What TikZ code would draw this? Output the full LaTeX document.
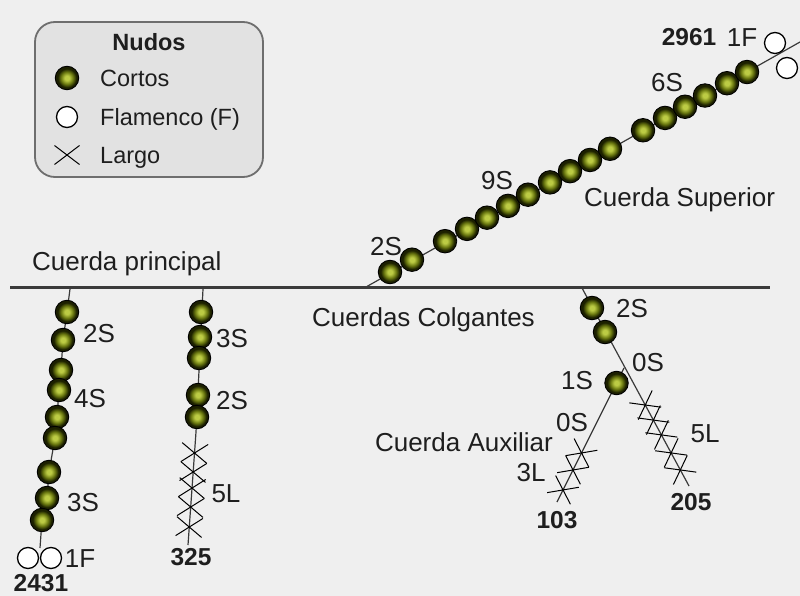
\documentclass[tikz,border=0pt]{standalone}
\usepackage{fontspec}
\setmainfont{Liberation Sans}
\usetikzlibrary{shapes.misc}
\definecolor{bg}{HTML}{EFEFEF}
\definecolor{legfill}{HTML}{E2E2E2}
\definecolor{legdraw}{HTML}{6E6E6E}
\definecolor{beadin}{HTML}{BCCB44}
\definecolor{beadmid}{HTML}{6A7810}
\definecolor{beadout}{HTML}{1C2000}
\definecolor{ropec}{HTML}{3A3A3A}
\definecolor{txt}{HTML}{1E1E1E}
\pgfdeclareradialshading{beadshade}{\pgfpoint{0bp}{0bp}}{color(0bp)=(beadin); color(5bp)=(beadin); color(13bp)=(beadmid); color(20bp)=(beadout); color(50bp)=(beadout)}
\begin{document}
\begin{tikzpicture}[x=1pt,y=-1pt,
  bead/.style={circle, draw=black, line width=0.9pt, shade, shading=beadshade, minimum size=23.5pt, inner sep=0pt},
  flam/.style={circle, draw=black, fill=white, line width=1.3pt, minimum size=21pt, inner sep=0pt},
  knot/.style={cross out, draw=black, line width=1pt, minimum width=18pt, minimum height=25pt, inner sep=0pt, sloped},
  rope/.style={draw=ropec, line width=1.2pt},
  lbl/.style={font=\fontsize{26}{30}\selectfont, text=txt, inner sep=0pt, text height=18.6pt, text depth=0pt},
  num/.style={lbl, font=\fontsize{24.5}{30}\selectfont\bfseries, text height=17.5pt},
  leg/.style={font=\fontsize{23.5}{28}\selectfont, text=txt, inner sep=0pt, text height=16.8pt, text depth=0pt}]
\fill[bg] (0,0) rectangle (800,596);
\useasboundingbox (0,0) rectangle (800,596);

% legend
\draw[fill=legfill, draw=legdraw, line width=1.8pt, rounded corners=20pt] (35,22) rectangle (263,177);
\node[leg, font=\fontsize{23.5}{28}\selectfont\bfseries] (legt) at (149,42) {Nudos};
\node[bead] (legb) at (67,78) {};
\node[leg, anchor=west] (legbt) at (100,78) {Cortos};
\node[flam] (legf) at (67,117) {};
\node[leg, anchor=west] (legft) at (100,117) {Flamenco (F)};
\node[cross out, draw=black, line width=1pt, minimum width=24pt, minimum height=18pt, inner sep=0pt] (legx) at (67,155) {};
\node[leg, anchor=west] (legxt) at (100,155) {Largo};

% main cord
\coordinate (mL) at (10,287);
\coordinate (mR) at (770,287);
\draw[draw=ropec, line width=3pt] (mL) -- (mR);
\node[lbl, anchor=west] (tprin) at (32,261) {Cuerda principal};
\node[lbl, anchor=west] (tcolg) at (312,317) {Cuerdas Colgantes};

% upper cord
\coordinate (sA) at (366,287);
\coordinate (sB) at (800,42);
\draw[rope] (sA) -- (sB);
\foreach \x [count=\i] in {390,412,445,467,487,508,528,550,570,590,610,643,665,685,705,727,747}{
  \node[bead] (s\i) at (\x,{272-0.5602*(\x-390)}) {};
}
\node[flam] (sf1) at (775,43) {};
\node[flam] (sf2) at (787,68) {};
\node[lbl] (s2s) at (386,246) {2S};
\node[lbl] (s9s) at (497,180) {9S};
\node[lbl] (s6s) at (667,82) {6S};
\node[num] (s2961) at (689,37) {2961};
\node[lbl] (s1f) at (742,37) {1F};
\node[lbl, anchor=west] (tsup) at (584,197) {Cuerda Superior};

% pendant 1
\coordinate (aT) at (70,289);
\coordinate (aE) at (40,548);
\draw[rope] (aT) -- (67,312) -- (63,340) -- (61,370) -- (59,390) -- (57,417) -- (55,438) -- (49,472) -- (47,498) -- (42,520) -- (aE);
\node[bead] (a1) at (67,312) {};
\node[bead] (a2) at (63,340) {};
\node[bead] (a3) at (61,370) {};
\node[bead] (a4) at (59,390) {};
\node[bead] (a5) at (57,417) {};
\node[bead] (a6) at (55,438) {};
\node[bead] (a7) at (49,472) {};
\node[bead] (a8) at (47,498) {};
\node[bead] (a9) at (42,520) {};
\node[flam] (af1) at (28,558) {};
\node[flam] (af2) at (51,558) {};
\node[lbl] (a2s) at (99,333) {2S};
\node[lbl] (a4s) at (90,398) {4S};
\node[lbl] (a3s) at (83,502) {3S};
\node[lbl] (a1f) at (80,558) {1F};
\node[num] (a2431) at (41,583) {2431};

% pendant 2
\coordinate (bT) at (203,289);
\coordinate (bK) at (196,432);
\coordinate (bE) at (188,545);
\draw[rope] (bT) -- (bK) -- (bE);
\node[bead] (b1) at (201,312) {};
\node[bead] (b2) at (200,337) {};
\node[bead] (b3) at (199,358) {};
\node[bead] (b4) at (198,395) {};
\node[bead] (b5) at (197,417) {};
\path (bK) -- (bE)
  foreach \q in {0.186,0.354,0.496,0.664,0.841}{ node[knot, pos=\q] {} };
\node[lbl] (b3s) at (232,338) {3S};
\node[lbl] (b2s) at (232,400) {2S};
\node[lbl] (b5l) at (226,493) {5L};
\node[num] (b325) at (191,557) {325};

% pendant 3 with auxiliary
\coordinate (cT) at (582,288);
\coordinate (cE) at (689,486);
\coordinate (dT) at (624,368);
\coordinate (dE) at (557,502);
\draw[rope] (cT) -- (cE);
\draw[rope] (dT) -- (dE);
\node[bead] (c1) at (592,308) {};
\node[bead] (c2) at (605,332) {};
\path (cT) -- (cE)
  foreach \q in {0.591,0.667,0.742,0.833,0.919}{ node[knot, pos=\q] {} };
\node[bead] (d1) at (616.5,383) {};
\path (dT) -- (dE)
  foreach \q in {0.634,0.761,0.910}{ node[knot, pos=\q] {} };
\node[lbl] (c2s) at (632,308) {2S};
\node[lbl] (c0s) at (648,362) {0S};
\node[lbl] (c5l) at (705,433) {5L};
\node[num] (c205) at (691,502) {205};
\node[lbl] (d1s) at (577,380) {1S};
\node[lbl] (d0s) at (572,422) {0S};
\node[lbl] (d3l) at (531,472) {3L};
\node[num] (d103) at (557,520) {103};
\node[lbl, anchor=east] (taux) at (553,442) {Cuerda Auxiliar};
\end{tikzpicture}
\end{document}
